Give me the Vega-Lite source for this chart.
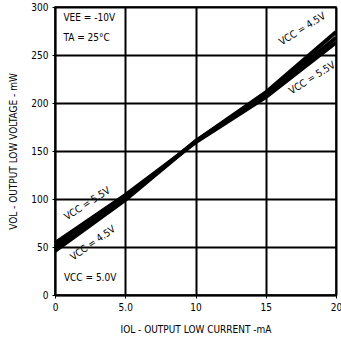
{
  "$schema": "https://vega.github.io/schema/vega-lite/v6.json",
  "autosize": {"type": "none"},
  "width": 281,
  "height": 288,
  "padding": {"left": 55, "top": 7, "right": 5, "bottom": 50},
  "background": "white",
  "config": {
    "view": {"stroke": "black", "strokeWidth": 1.5},
    "font": "DejaVu Sans Condensed",
    "axis": {
      "domainColor": "black",
      "domainWidth": 1.5,
      "tickColor": "black",
      "tickSize": 3,
      "labelFont": "DejaVu Sans Condensed",
      "labelFontSize": 10,
      "labelColor": "black",
      "labelPadding": 4,
      "labelFlush": false,
      "titleFont": "DejaVu Sans Condensed",
      "titleFontWeight": "normal",
      "titleFontSize": 10,
      "titleColor": "black",
      "titlePadding": 12
    }
  },
  "datasets": {
    "curves": [
      {"iol": 0, "vol": 46, "vcc": "4.5V"},
      {"iol": 5, "vol": 99, "vcc": "4.5V"},
      {"iol": 10, "vol": 160, "vcc": "4.5V"},
      {"iol": 15, "vol": 211, "vcc": "4.5V"},
      {"iol": 20, "vol": 274, "vcc": "4.5V"},
      {"iol": 0, "vol": 50, "vcc": "5.0V"},
      {"iol": 5, "vol": 101, "vcc": "5.0V"},
      {"iol": 10, "vol": 160, "vcc": "5.0V"},
      {"iol": 15, "vol": 209, "vcc": "5.0V"},
      {"iol": 20, "vol": 268, "vcc": "5.0V"},
      {"iol": 0, "vol": 54, "vcc": "5.5V"},
      {"iol": 5, "vol": 104, "vcc": "5.5V"},
      {"iol": 10, "vol": 159, "vcc": "5.5V"},
      {"iol": 15, "vol": 206, "vcc": "5.5V"},
      {"iol": 20, "vol": 263, "vcc": "5.5V"}
    ],
    "labels": [
      {"iol": 17.6, "vol": 277, "text": "VCC = 4.5V", "angle": -32},
      {"iol": 18.3, "vol": 226, "text": "VCC = 5.5V", "angle": -32},
      {"iol": 2.3, "vol": 95, "text": "VCC = 5.5V", "angle": -33},
      {"iol": 2.7, "vol": 54, "text": "VCC = 4.5V", "angle": -35},
      {"iol": 2.5, "vol": 18, "text": "VCC = 5.0V", "angle": 0}
    ],
    "cond": [
      {"iol": 0.6, "vol": 289, "text": "VEE = -10V"},
      {"iol": 0.6, "vol": 268, "text": "TA = 25°C"}
    ]
  },
  "layer": [
    {
      "data": {"name": "curves"},
      "mark": {"type": "line", "color": "black", "strokeWidth": 4},
      "encoding": {
        "x": {"field": "iol", "type": "quantitative",
          "scale": {"domain": [0, 20], "nice": false},
          "axis": {"grid": true, "gridColor": "#000000", "gridWidth": 2, "gridOpacity": 1,
            "values": [0, 2.5, 5, 7.5, 10, 12.5, 15, 17.5, 20],
            "labelExpr": "datum.value == 5 ? '5.0' : (datum.value % 5 == 0 ? datum.label : '')",
            "title": "IOL - OUTPUT LOW CURRENT -mA"}},
        "y": {"field": "vol", "type": "quantitative",
          "scale": {"domain": [0, 300], "nice": false},
          "axis": {"grid": true, "gridColor": "#000000", "gridWidth": 2, "gridOpacity": 1,
            "values": [0, 50, 100, 150, 200, 250, 300],
            "title": "VOL - OUTPUT LOW VOLTAGE - mW"}},
        "detail": {"field": "vcc", "type": "nominal"}
      }
    },
    {
      "data": {"name": "labels"},
      "mark": {"type": "text", "font": "DejaVu Sans Condensed", "fontSize": 10, "color": "black", "align": "center", "baseline": "middle"},
      "encoding": {
        "x": {"field": "iol", "type": "quantitative"},
        "y": {"field": "vol", "type": "quantitative"},
        "text": {"field": "text"},
        "angle": {"field": "angle", "type": "quantitative", "scale": null}
      }
    },
    {
      "data": {"name": "cond"},
      "mark": {"type": "text", "font": "DejaVu Sans Condensed", "fontSize": 10, "color": "black", "align": "left", "baseline": "middle"},
      "encoding": {
        "x": {"field": "iol", "type": "quantitative"},
        "y": {"field": "vol", "type": "quantitative"},
        "text": {"field": "text"}
      }
    }
  ]
}
